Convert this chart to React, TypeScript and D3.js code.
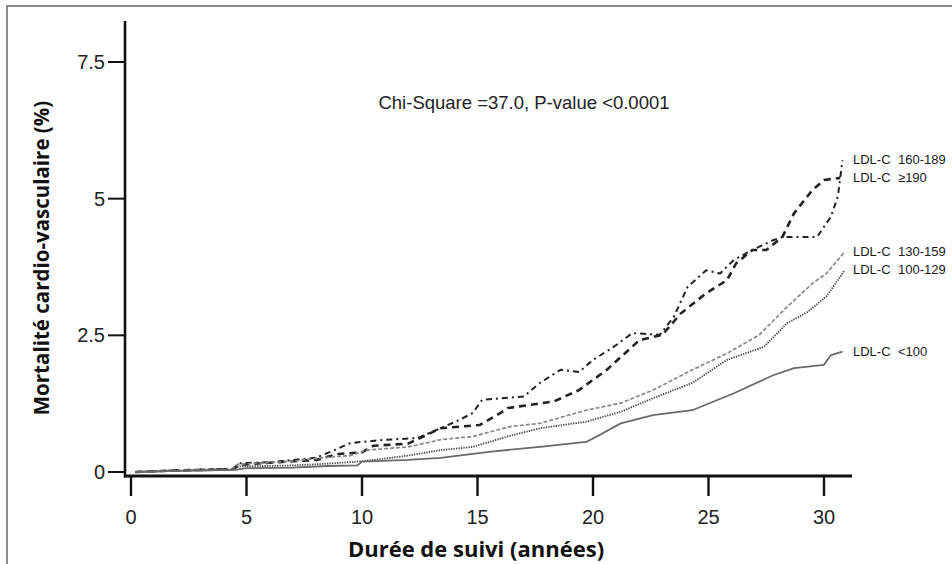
import React from 'react';
import * as d3 from 'd3';

// Kaplan-Meier style curves: [years, percent]
const ldlUnder100: [number, number][] = [
  [0.2, 0], [2, 0.02], [4.5, 0.04], [5, 0.07], [7, 0.08], [8.5, 0.11], [9.8, 0.12], [10, 0.19],
  [12, 0.22], [13.4, 0.26], [15.5, 0.37], [17.7, 0.46], [19.7, 0.55], [20.3, 0.68], [21.2, 0.89],
  [22.6, 1.04], [24.3, 1.13], [26.1, 1.44], [27.8, 1.77], [28.7, 1.9], [30.0, 1.96], [30.3, 2.14], [30.8, 2.2],
];
const ldl100to129: [number, number][] = [
  [0.2, 0], [2, 0.02], [4.4, 0.04], [4.6, 0.1], [7, 0.12], [8, 0.14], [9.5, 0.18], [10.5, 0.22],
  [12, 0.3], [13.4, 0.4], [14.8, 0.46], [16.3, 0.65], [17.7, 0.8], [19.7, 0.92], [21.2, 1.1],
  [22.6, 1.35], [24.3, 1.63], [25.8, 2.05], [27.4, 2.29], [28.4, 2.72], [29.3, 2.93], [30.1, 3.21], [30.9, 3.69],
];
const ldl130to159: [number, number][] = [
  [0.2, 0], [2, 0.03], [4.4, 0.05], [4.6, 0.14], [7, 0.2], [8.5, 0.27], [9.5, 0.3], [10.2, 0.4],
  [12, 0.46], [13.4, 0.59], [14.8, 0.65], [16.4, 0.83], [17.7, 0.89], [19.7, 1.13], [21.2, 1.26],
  [22.6, 1.5], [24.3, 1.87], [25.8, 2.17], [27.2, 2.51], [28.4, 3.02], [29.5, 3.45], [30.1, 3.63], [30.9, 4.03],
];
const ldl160to189: [number, number][] = [
  [0.2, 0], [2, 0.03], [4.4, 0.06], [4.7, 0.16], [6, 0.18], [8, 0.26], [8.8, 0.4], [9.5, 0.53],
  [11, 0.59], [12.4, 0.62], [13.4, 0.8], [14.2, 0.95], [14.8, 1.08], [15.2, 1.32], [17.0, 1.38],
  [17.7, 1.63], [18.6, 1.87], [19.4, 1.83], [20, 2.05], [20.9, 2.29], [21.7, 2.54], [22.9, 2.51],
  [23.5, 2.84], [24.1, 3.39], [24.9, 3.69], [25.5, 3.63], [26.1, 3.88], [26.9, 4.06], [27.8, 4.24],
  [28.2, 4.3], [29.7, 4.3], [30.3, 4.67], [30.6, 5.04], [30.8, 5.7],
];
const ldlOver190: [number, number][] = [
  [0.2, 0], [2, 0.03], [4.4, 0.05], [4.7, 0.13], [6, 0.17], [8, 0.22], [9, 0.33], [10, 0.36],
  [10.5, 0.48], [12, 0.52], [12.8, 0.68], [13.4, 0.8], [15.1, 0.86], [16, 1.08], [16.3, 1.17],
  [18.3, 1.29], [19.4, 1.5], [20.6, 1.87], [22, 2.41], [23, 2.51], [23.8, 2.9], [24.9, 3.27],
  [25.8, 3.51], [26.2, 3.82], [26.9, 4.06], [27.5, 4.06], [28.2, 4.3], [28.7, 4.73], [29.5, 5.16],
  [30, 5.34], [30.7, 5.38],
];

const groupNames = ['160-189', '≥190', '130-159', '100-129', '<100'];
const xTicks = [0, 5, 10, 15, 20, 25, 30];
const yTicks = [0, 2.5, 5, 7.5];
const yTickLabels = ['0', '2.5', '5', '7.5'];

const series = [
  { name: groupNames[0], data: ldl160to189, color: '#222', width: 2, dash: '6 4 2 4' },
  { name: groupNames[1], data: ldlOver190, color: '#222', width: 2.6, dash: '7 5' },
  { name: groupNames[2], data: ldl130to159, color: '#888', width: 1.7, dash: '4 2' },
  { name: groupNames[3], data: ldl100to129, color: '#444', width: 1.8, dash: '1.3 1.2' },
  { name: groupNames[4], data: ldlUnder100, color: '#6a6a6a', width: 1.8, dash: null },
];

export default function App() {
  const width = 952;
  const height = 564;
  const x = d3.scaleLinear().domain([0, 30]).range([131, 824]);
  const y = d3.scaleLinear().domain([0, 7.5]).range([472, 62]);
  const axisY = 476;
  const axisX = 125;

  const line = d3.line<[number, number]>()
    .x(d => x(d[0]))
    .y(d => y(d[1]))
    .curve(d3.curveLinear);

  const tickFont = '"Liberation Sans", Arial, sans-serif';
  const titleFont = '"Open Sans", sans-serif';

  return (
    <svg width={width} height={height} style={{ position: 'absolute', left: 0, top: 0, background: '#fff' }}>
      <rect x={7} y={6} width={1000} height={700} fill="#fff" stroke="#666" strokeWidth={1.5} />

      {/* y axis */}
      <line x1={axisX} x2={axisX} y1={21} y2={axisY + 1.5} stroke="#111" strokeWidth={2.6} />
      {yTicks.map((t, i) => (
        <g key={t}>
          <line x1={108} x2={axisX} y1={y(t)} y2={y(t)} stroke="#111" strokeWidth={2} />
          <text x={105} y={y(t) + 7} textAnchor="end" fontSize={20} fontFamily={tickFont} fill="#222">
            {yTickLabels[i]}
          </text>
        </g>
      ))}

      {/* x axis */}
      <line x1={axisX - 1} x2={852} y1={axisY} y2={axisY} stroke="#111" strokeWidth={3} />
      {xTicks.map(t => (
        <g key={t}>
          <line x1={x(t)} x2={x(t)} y1={axisY} y2={496} stroke="#111" strokeWidth={2.4} />
          <text x={x(t)} y={524} textAnchor="middle" fontSize={20} fontFamily={tickFont} fill="#222">
            {t}
          </text>
        </g>
      ))}

      {/* curves */}
      {series.map(s => (
        <path
          key={s.name}
          d={line(s.data) || ''}
          fill="none"
          stroke={s.color}
          strokeWidth={s.width}
          strokeDasharray={s.dash || undefined}
          strokeLinejoin="round"
        />
      ))}

      {/* end labels */}
      {series.map(s => {
        const last = s.data[s.data.length - 1];
        return (
          <text key={s.name} y={y(last[1]) + 4} fontSize={13} fontFamily={tickFont} fill="#1a1a1a">
            <tspan x={853}>LDL-C</tspan>
            <tspan x={898}>{s.name}</tspan>
          </text>
        );
      })}

      <text x={524} y={109} textAnchor="middle" fontSize={18.5} fontFamily={tickFont} fill="#222">
        Chi-Square =37.0, P-value &lt;0.0001
      </text>

      <text x={476} y={557} textAnchor="middle" fontSize={22} fontWeight="bold" fontFamily={titleFont} fill="#111">
        Durée de suivi (années)
      </text>
      <text
        transform={`translate(49, 258) rotate(-90)`}
        textAnchor="middle"
        fontSize={20.5}
        fontWeight="bold"
        fontFamily={titleFont}
        fill="#111"
      >
        Mortalité cardio-vasculaire (%)
      </text>
    </svg>
  );
}
